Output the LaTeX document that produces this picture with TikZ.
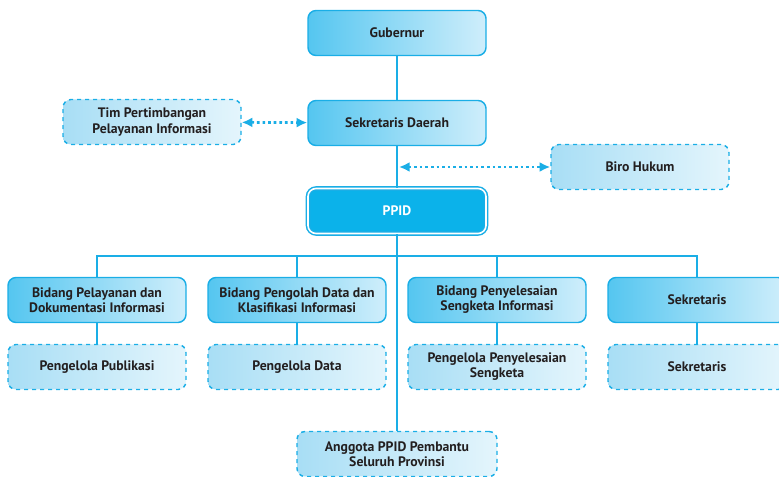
\documentclass[tikz,border=0pt]{standalone}
\usepackage{fontspec}
\setmainfont{PT Sans}
\usetikzlibrary{arrows.meta}

\definecolor{trait}{HTML}{1AAEE6}
\definecolor{fonce}{HTML}{55C6F0}
\definecolor{clair}{HTML}{CFEEFB}
\definecolor{pale}{HTML}{A8DEF5}
\definecolor{tpale}{HTML}{E4F5FC}
\definecolor{plein}{HTML}{0BB2EA}
\definecolor{texte}{HTML}{231F20}

\tikzset{
  cadre/.style={draw=trait, line width=1.1pt, rounded corners=6pt,
    left color=fonce, right color=clair, text=texte,
    minimum width=133.5pt, minimum height=33.75pt, align=center,
    font=\bfseries\fontsize{10.3}{11.3}\selectfont, inner sep=1pt},
  cadrept/.style={cadre, dashed, left color=pale, right color=tpale},
  lien/.style={draw=trait, line width=1.4pt},
  fleche/.style={draw=trait, line width=2pt, dash pattern=on 2pt off 2.2pt,
    {Latex[length=8pt,width=7.5pt]}-{Latex[length=8pt,width=7.5pt]}}
}

\begin{document}
\begin{tikzpicture}[x=0.75pt, y=-0.75pt]
      \useasboundingbox (0,0) rectangle (779,477);
      \clip (0,0) rectangle (779,477);

      %cadres du haut
      \node[cadre] (gub) at (397,33) {Gubernur};
      \node[cadre] (sekda) at (397,123) {Sekretaris Daerah};
      \node[cadrept] (tim) at (152,122) {Tim Pertimbangan\\Pelayanan Informasi};
      \node[cadrept] (biro) at (640,167) {Biro Hukum};
      \node[cadre, fill=plein, left color=plein, right color=plein,
        double=white, double distance=1.2pt, text=white] (ppid) at (397,211) {PPID};

      %bidang
      \node[cadre] (b1) at (97,300) {Bidang Pelayanan dan\\Dokumentasi Informasi};
      \node[cadre] (b2) at (297,300) {Bidang Pengolah Data dan\\Klasifikasi Informasi};
      \node[cadre] (b3) at (497,300) {Bidang Penyelesaian\\Sengketa Informasi};
      \node[cadre] (b4) at (697,300) {Sekretaris};

      %pengelola
      \node[cadrept] (p1) at (97,367) {Pengelola Publikasi};
      \node[cadrept] (p2) at (297,367) {Pengelola Data};
      \node[cadrept] (p3) at (497,367) {Pengelola Penyelesaian\\Sengketa};
      \node[cadrept] (p4) at (697,367) {Sekretaris};

      \node[cadrept, minimum width=150pt] (ang) at (397,454) {Anggota PPID Pembantu\\Seluruh Provinsi};

      %lignes
      \coordinate (bus) at (397,256);
      \coordinate (bh) at (399,167);
      \draw[lien] (gub) -- (sekda);
      \draw[lien] (sekda) -- (ppid);
      \draw[lien] (ppid) -- (ang);
      \draw[lien] (b1.north) |- (bus) -| (b4.north);
      \draw[lien] (b2.north) |- (bus);
      \draw[lien] (b3.north) |- (bus);
      \draw[lien] (b1) -- (p1);
      \draw[lien] (b2) -- (p2);
      \draw[lien] (b3) -- (p3);
      \draw[lien] (b4) -- (p4);

      %fleches
      \draw[fleche] (tim) -- (sekda);
      \draw[fleche] (bh) -- (biro);
    \end{tikzpicture}
\end{document}
